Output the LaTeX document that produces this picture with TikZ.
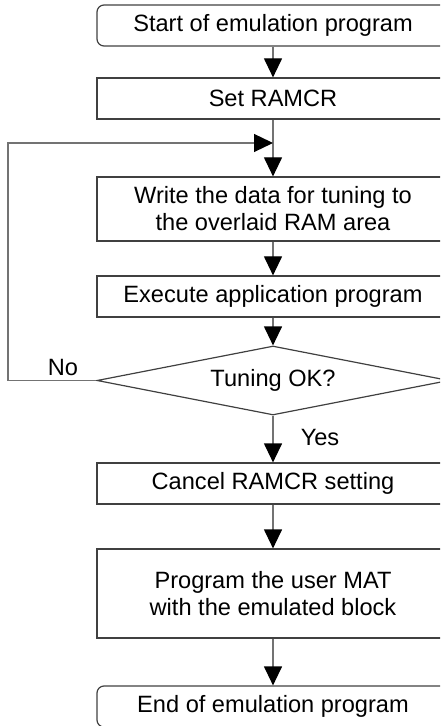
\documentclass[tikz,border=0pt]{standalone}
\usepackage{fontspec}
\setmainfont{Liberation Sans}
\usetikzlibrary{arrows.meta,shapes.geometric}

\begin{document}
\begin{tikzpicture}[x=0.5pt,y=-0.5pt,
    font=\fontsize{11.8}{13.5}\selectfont,
    box/.style={draw=black!75,line width=0.6pt,minimum width=176pt,align=center,inner sep=0pt},
    term/.style={box,rounded corners=3.5pt,minimum height=20.5pt},
    decide/.style={draw=black!75,line width=0.6pt,diamond,aspect=5.1,minimum width=176pt,minimum height=34.5pt,inner sep=0pt},
    flow/.style={draw=black!55,line width=0.6pt,-{Triangle[length=9.5pt,width=9pt,color=black]}}]
  \useasboundingbox (0,0) rectangle (440,726);
  \clip (0,0) rectangle (440,726);
  % steps of the flow
  \node[term] (start) at (273,25.5) {Start of emulation program};
  \node[box,minimum height=20.5pt] (set) at (273,98.5) {Set RAMCR};
  \node[box,minimum height=32pt] (write) at (273,209) {Write the data for tuning to\\the overlaid RAM area};
  \node[box,minimum height=20.5pt] (exec) at (273,296.5) {Execute application program};
  \node[decide] (tune) at (273,380.5) {Tuning OK?};
  \node[box,minimum height=20.5pt] (cancel) at (273,483.5) {Cancel RAMCR setting};
  \node[box,minimum height=44.5pt] (prog) at (273,593.5) {Program the user MAT\\with the emulated block};
  \node[term] (end) at (273,706.5) {End of emulation program};
  % connectors
  \draw[flow] (start) -- (set);
  \draw[flow] (set) -- (write);
  \draw[flow] (write) -- (exec);
  \draw[flow] (exec) -- (tune);
  \draw[flow] (tune) -- (cancel);
  \draw[flow] (cancel) -- (prog);
  \draw[flow] (prog) -- (end);
  % retry loop
  \coordinate (loop) at (8,143);
  \coordinate (merge) at (273,143);
  \draw[flow] (tune.west) -| (loop) -- (merge);
  \node (no) at (63,367) {No};
  \node (yes) at (320,437) {Yes};
\end{tikzpicture}
\end{document}
